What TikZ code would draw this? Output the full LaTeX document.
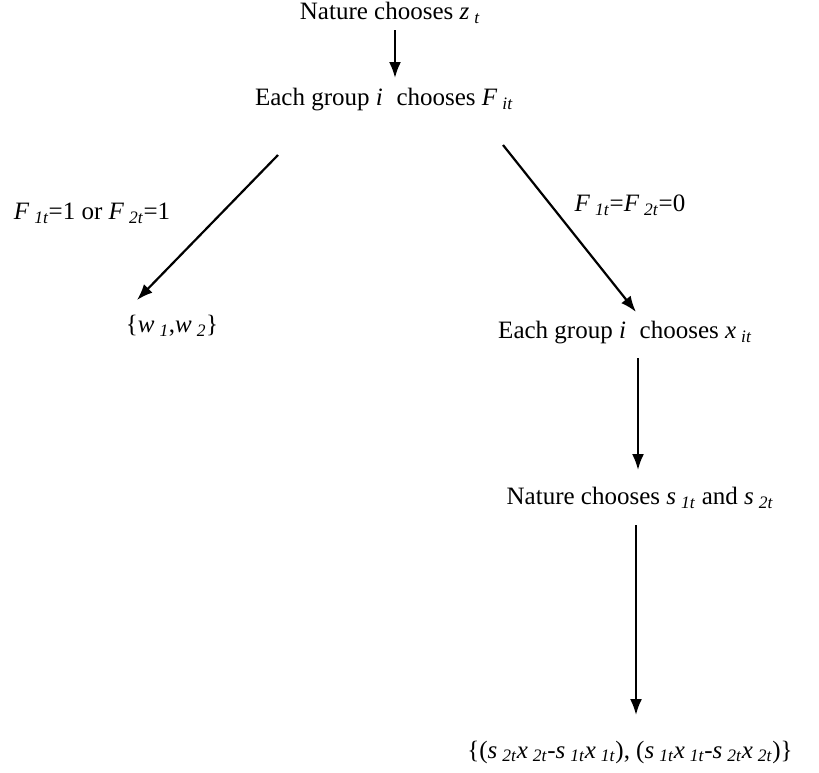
\documentclass[tikz,border=0pt]{standalone}
\usepackage{fontspec}
\setmainfont{Liberation Serif}
\usetikzlibrary{arrows.meta, positioning, calc}
\newcommand{\isub}[2]{\textit{#1}\hspace{0.2em}\textsubscript{\textit{#2}}}
\tikzstyle{stage} = [inner sep=0pt, font=\fontsize{25}{30}\selectfont]
\tikzstyle{branch} = [inner sep=0pt, font=\fontsize{25}{30}\selectfont]
\tikzstyle{move} = [-{Latex[length=16pt, width=12pt]}, line width=2.2pt]

\begin{document}
\begin{tikzpicture}[x=1pt, y=-1pt]
	\useasboundingbox (0,0) rectangle (819,772);
	\node[stage] (zchoice) at (390,13) {Nature chooses \isub{z}{t}};
	\node[stage] (fchoice) at (384,100) {Each group \textit{i}\hspace{0.3em} chooses \isub{F}{it}};
	\node[stage] (wset) at (172,326) {\{\isub{w}{1},\isub{w}{2}\}};
	\node[stage] (xchoice) at (625,333) {Each group \textit{i}\hspace{0.3em} chooses \isub{x}{it}};
	\node[stage] (schoice) at (640,498) {Nature chooses \isub{s}{1t} and \isub{s}{2t}};
	\node[stage] (payoff) at (630,752) {\{(\isub{s}{2t}\isub{x}{2t}-\isub{s}{1t}\isub{x}{1t}), (\isub{s}{1t}\isub{x}{1t}-\isub{s}{2t}\isub{x}{2t})\}};
	\node[branch] (oneact) at (92,213) {\isub{F}{1t}=1 or \isub{F}{2t}=1};
	\node[branch] (noact) at (630,205) {\isub{F}{1t}=\isub{F}{2t}=0};

	\draw[move] ($(zchoice)+(5,17)$) -- ($(fchoice)+(11,-22)$);
	\draw[move] ($(fchoice)+(-106,55)$) -- ($(wset)+(-35,-26)$);
	\draw[move] ($(fchoice)+(119,45)$) -- ($(xchoice)+(11,-21)$);
	\draw[move] ($(xchoice)+(13,25)$) -- ($(schoice)+(-2,-28)$);
	\draw[move] ($(schoice)+(-4,27)$) -- ($(payoff)+(6,-37)$);
\end{tikzpicture}
\end{document}
